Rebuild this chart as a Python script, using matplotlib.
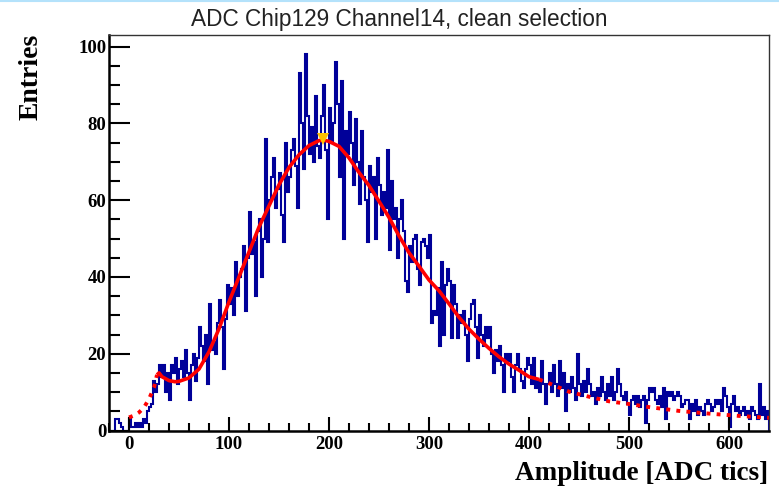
import numpy as np
import matplotlib
matplotlib.use("Agg")
import matplotlib.pyplot as plt
from matplotlib.lines import Line2D

# histogram: 2-ADC bins from -20 to 640
bin_lo = -20
bin_w = 2
counts = [
    0, 0, 0, 3, 3, 2, 1, 0, 0, 0,          # -20
    3, 1, 1, 2, 1, 2, 1, 3, 2, 5,          # 0
    6, 7, 13, 10, 12, 17, 14, 17, 10, 15,  # 20
    8, 17, 15, 19, 12, 16, 18, 14, 21, 15, # 40
    8, 17, 20, 13, 19, 27, 22, 18, 25, 12, # 60
    33, 21, 23, 20, 28, 34, 27, 16, 29, 38, # 80
    33, 37, 30, 44, 35, 40, 42, 48, 31, 45, # 100
    57, 46, 49, 35, 52, 55, 40, 50, 76, 49, # 120
    60, 66, 71, 58, 63, 67, 56, 49, 75, 62, # 140
    66, 73, 76, 69, 58, 93, 80, 68, 98, 82, # 160
    72, 79, 70, 87, 74, 71, 82, 90, 73, 55, # 180
    84, 75, 80, 96, 85, 66, 91, 50, 78, 72, # 200
    83, 75, 64, 81, 70, 59, 78, 66, 60, 49, # 220
    69, 62, 66, 50, 71, 64, 56, 62, 58, 73, # 240
    47, 65, 55, 58, 45, 55, 60, 52, 39, 36, # 260
    48, 44, 50, 51, 42, 38, 49, 50, 48, 45, # 280
    51, 28, 31, 30, 37, 22, 44, 25, 38, 42, # 300
    39, 24, 38, 33, 24, 30, 28, 31, 25, 18, # 320
    29, 33, 34, 27, 19, 30, 25, 22, 27, 24, # 340
    27, 20, 15, 21, 18, 22, 17, 10, 20, 18, # 360
    20, 14, 10, 17, 20, 16, 13, 11, 16, 19, # 380
    17, 12, 19, 11, 13, 10, 18, 12, 7, 12,  # 400
    15, 10, 17, 12, 9, 18, 11, 15, 5, 12,   # 420
    10, 14, 11, 8, 20, 12, 9, 13, 10, 16,   # 440
    12, 9, 10, 7, 11, 9, 14, 10, 8, 12,     # 460
    9, 14, 8, 10, 16, 12, 9, 8, 10, 7,      # 480
    4, 8, 9, 7, 9, 6, 8, 9, 2, 8,           # 500
    11, 10, 11, 8, 7, 9, 6, 11, 3, 10,      # 520
    9, 10, 8, 9, 10, 9, 6, 7, 8, 8,         # 540
    3, 7, 5, 8, 4, 6, 5, 4, 7, 8,           # 560
    7, 5, 6, 8, 7, 8, 5, 11, 9, 6,          # 580
    1, 7, 9, 5, 6, 4, 5, 6, 4, 5,           # 600
    3, 6, 5, 4, 3, 12, 4, 6, 3, 5,          # 620
]

# fit curve
fit_x = [0, 5, 10, 15, 20, 25, 28, 30, 33, 40, 46, 50, 60, 70, 80, 90,
         100, 110, 120, 130, 140, 150, 160, 170, 180, 190, 195, 200, 210,
         220, 230, 240, 250, 260, 270, 280, 290, 300, 310, 320, 330, 340,
         350, 360, 370, 380, 390, 400, 410, 420, 440, 460, 480, 500, 520,
         550, 580, 610, 640]
fit_y = [3.4, 3.9, 4.7, 6.0, 8.2, 11.2, 14.5, 15.0, 14.0, 13.0, 12.7, 12.8,
         13.7, 16.0, 20.5, 26.5, 33.5, 40.0, 46.5, 53.0, 58.5, 64.0, 68.5,
         71.8, 74.2, 75.5, 75.6, 75.3, 74.0, 71.0, 67.2, 63.8, 59.7, 55.5,
         50.7, 46.3, 42.8, 39.2, 36.4, 33.0, 29.5, 26.4, 23.8, 21.4, 19.2,
         17.3, 15.7, 14.0, 13.3, 12.3, 10.1, 8.8, 7.6, 6.9, 6.1, 5.1, 4.4,
         3.8, 3.3]
fit_lo, fit_hi = 28, 410
peak_x, peak_y = 193.5, 76.0

counts = np.array(counts)
edges = bin_lo + bin_w * np.arange(len(counts) + 1)
fx = np.array(fit_x)
fy = np.array(fit_y)

fig = plt.figure(figsize=(7.79, 4.91), dpi=100)
ax = fig.add_axes([109 / 779, 1 - 430.5 / 491, 660 / 779, 395.5 / 491])

ax.stairs(counts, edges, color="#000099", linewidth=1.5)

inside = (fx >= fit_lo) & (fx <= fit_hi)
left = fx <= fit_lo
right = fx >= fit_hi
ax.plot(fx[left], fy[left], color="red", lw=2.8, linestyle=(0, (1, 1.6)))
ax.plot(fx[right], fy[right], color="red", lw=2.8, linestyle=(0, (1, 1.6)))
ax.plot(fx[inside], fy[inside], color="red", lw=2.6, solid_capstyle="butt")
# peak marker
ax.plot([peak_x], [peak_y], marker="v", color="#ffc000", markersize=9,
        markeredgewidth=0, linestyle="none", zorder=5)

ax.set_xlim(-20, 640)
ax.set_ylim(0, 103)

ax.set_xticks(np.arange(0, 601, 100))
ax.set_xticks(np.arange(-20, 640, 20), minor=True)
ax.set_yticks(np.arange(0, 101, 20))
ax.set_yticks(np.arange(0, 101, 5), minor=True)

ax.tick_params(axis="both", which="both", direction="in", top=False, right=False,
               width=1.5, color="black")
ax.tick_params(axis="y", which="major", length=15, pad=2)
ax.tick_params(axis="y", which="minor", length=8)
ax.tick_params(axis="x", which="major", length=10, pad=4)
ax.tick_params(axis="x", which="minor", length=6)

tick_font = {"family": "Liberation Serif", "weight": "bold", "size": 13.5}
for lab in ax.get_xticklabels() + ax.get_yticklabels():
    lab.set_fontproperties(matplotlib.font_manager.FontProperties(**tick_font))

for side in ["left", "bottom"]:
    ax.spines[side].set_linewidth(1.8)
for side in ["top", "right"]:
    ax.spines[side].set_linewidth(1.0)
    ax.spines[side].set_color("#333333")

fig.text(399 / 779, 1 - 26 / 491, "ADC Chip129 Channel14, clean selection",
         ha="center", va="baseline", family="Liberation Sans", fontsize=16.3,
         color="#222222")
fig.text(31 / 779, 1 - 77 / 491, "Entries", rotation=90, ha="center",
         va="center", family="Liberation Serif", weight="bold", fontsize=20)
fig.text(768 / 779, 1 - 480 / 491, "Amplitude [ADC tics]", ha="right",
         va="baseline", family="Liberation Serif", weight="bold", fontsize=19.5)

# thin light blue border at the very top
fig.add_artist(Line2D([0, 1], [1 - 0.8 / 491, 1 - 0.8 / 491],
                      transform=fig.transFigure, color="#b4e2fb", lw=1.5))

fig.savefig("out.png", dpi=100)
